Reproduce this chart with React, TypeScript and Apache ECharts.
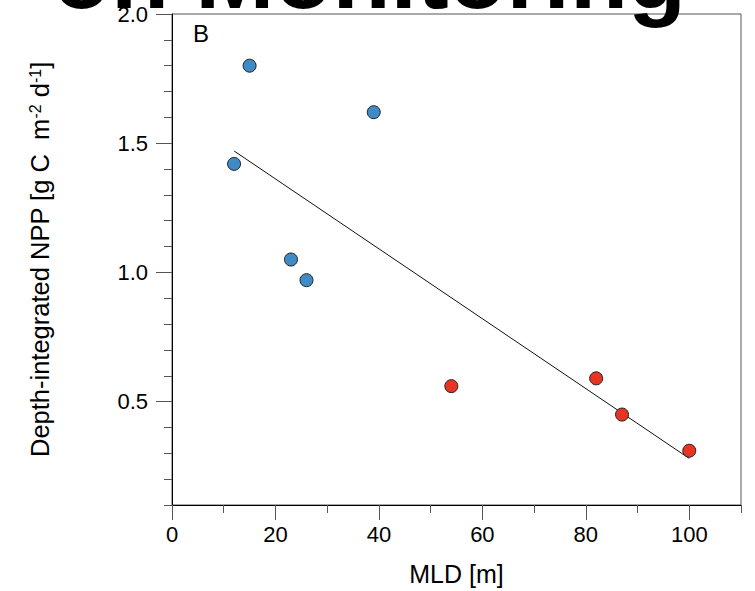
import React, { useEffect, useRef } from "react";
import * as echarts from "echarts";

const blueMLD = [12, 15, 39, 23, 26];
const blueNPP = [1.42, 1.8, 1.62, 1.05, 0.97];
const redMLD = [54, 82, 87, 100];
const redNPP = [0.56, 0.59, 0.45, 0.31];
const fitLine = [
  [12, 1.47],
  [100, 0.28],
];
const xMajor = [0, 20, 40, 60, 80, 100];
const xMinor = [10, 30, 50, 70, 90, 110];
const yMajor = [0.5, 1.0, 1.5, 2.0];
const yMinor = [0.1, 0.2, 0.3, 0.4, 0.6, 0.7, 0.8, 0.9, 1.1, 1.2, 1.3, 1.4, 1.6, 1.7, 1.8, 1.9];

const FONT = "Liberation Sans";

export default function App() {
  const ref = useRef<HTMLDivElement>(null);
  useEffect(() => {
    const chart = echarts.init(ref.current!, undefined, { renderer: "svg" });
    const axisCommon = {
      type: "value",
      splitLine: { show: false },
    };
    chart.setOption({
      animation: false,
      backgroundColor: "#fff",
      grid: {
        left: 172,
        top: 14,
        width: 569,
        height: 491,
        show: true,
        borderColor: "#555",
        borderWidth: 1,
        backgroundColor: "transparent",
      },
      xAxis: [
        {
          ...axisCommon,
          position: "bottom",
          min: 0,
          max: 110,
          interval: 10,
          axisLine: { show: true, lineStyle: { color: "#000", width: 1 } },
          axisTick: {
            show: true,
            inside: false,
            length: 15,
            customValues: xMajor,
            lineStyle: { color: "#555" },
          },
          axisLabel: {
            customValues: xMajor,
            margin: 18,
            fontFamily: FONT,
            fontSize: 22,
            color: "#000",
          },
          name: "MLD [m]",
          nameLocation: "middle",
          nameGap: 56,
          nameTextStyle: { fontFamily: FONT, fontSize: 25, color: "#000" },
        },
        {
          ...axisCommon,
          position: "bottom",
          min: 0,
          max: 110,
          interval: 10,
          axisLine: { show: false },
          axisTick: {
            show: true,
            length: 8,
            customValues: xMinor,
            lineStyle: { color: "#555" },
          },
          axisLabel: { show: false },
        },
      ],
      yAxis: [
        {
          ...axisCommon,
          position: "left",
          min: 0.1,
          max: 2.0,
          axisLine: { show: true, lineStyle: { color: "#000", width: 1 } },
          axisTick: {
            show: true,
            length: 16,
            customValues: yMajor,
            lineStyle: { color: "#555" },
          },
          axisLabel: {
            customValues: yMajor,
            margin: 24,
            fontFamily: FONT,
            fontSize: 22,
            color: "#000",
            formatter: (v: number) => v.toFixed(1),
          },
          name: "Depth-integrated NPP [g C  m{sup|-2} d{sup|-1}]",
          nameLocation: "middle",
          nameGap: 119,
          nameTextStyle: {
            fontFamily: FONT,
            fontSize: 25.5,
            color: "#000",
            rich: {
              sup: { fontFamily: FONT, fontSize: 16, color: "#000", verticalAlign: "top" },
            },
          },
        },
        {
          ...axisCommon,
          position: "left",
          min: 0.1,
          max: 2.0,
          axisLine: { show: false },
          axisTick: {
            show: true,
            length: 8,
            customValues: yMinor,
            lineStyle: { color: "#555" },
          },
          axisLabel: { show: false },
        },
      ],
      graphic: [
        {
          type: "text",
          left: 193,
          top: 21,
          style: { text: "B", fontFamily: FONT, fontSize: 24, fill: "#000" },
        },
        {
          type: "text",
          z: 100,
          x: 686,
          y: 22,
          style: {
            text: "on Monitoring",
            fontFamily: FONT,
            fontWeight: "bold",
            fontSize: 95,
            fill: "#000",
            align: "right",
            verticalAlign: "bottom",
          },
        },
      ],
      series: [
        {
          type: "line",
          data: fitLine,
          showSymbol: false,
          symbol: "none",
          lineStyle: { color: "#111", width: 1 },
          z: 1,
        },
        {
          type: "scatter",
          data: blueMLD.map((x, i) => [x, blueNPP[i]]),
          symbolSize: 13,
          itemStyle: { color: "#3f8bc7", borderColor: "#222", borderWidth: 1, opacity: 1 },
          z: 2,
        },
        {
          type: "scatter",
          data: redMLD.map((x, i) => [x, redNPP[i]]),
          symbolSize: 13,
          itemStyle: { color: "#e93423", borderColor: "#222", borderWidth: 1, opacity: 1 },
          z: 2,
        },
      ],
    });
    return () => chart.dispose();
  }, []);
  return (
    <div
      ref={ref}
      style={{ position: "fixed", left: 0, top: 0, width: 755, height: 591, background: "#fff" }}
    />
  );
}
